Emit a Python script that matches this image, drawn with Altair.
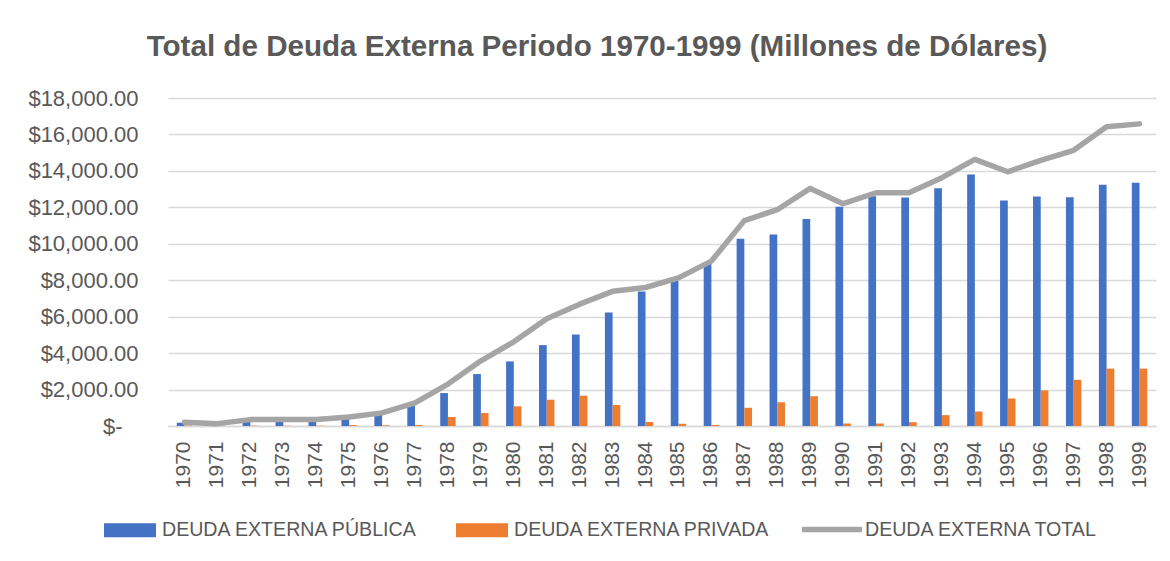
import altair as alt
import pandas as pd

years = [str(y) for y in range(1970, 2000)]

publica = [180, 110, 330, 340, 345, 440, 680, 1220, 1808, 2850,
           3545, 4438, 5023, 6227, 7378, 7963, 8895, 10270, 10510, 11355,
           12030, 12610, 12540, 13050, 13800, 12370, 12600, 12560, 13240, 13350]

privada = [30, 20, 20, 15, 15, 50, 40, 50, 493, 712,
           1078, 1443, 1662, 1150, 220, 128, 60, 1000, 1305, 1635,
           137, 137, 210, 595, 795, 1510, 1950, 2535, 3150, 3150]

total = [210, 130, 350, 355, 360, 490, 720, 1270, 2300, 3580,
         4620, 5890, 6685, 7390, 7600, 8130, 9050, 11270, 11870, 13040,
         12200, 12800, 12800, 13630, 14630, 13950, 14580, 15130, 16420, 16580]

S_PUB = "DEUDA EXTERNA PÚBLICA"
S_PRI = "DEUDA EXTERNA PRIVADA"
S_TOT = "DEUDA EXTERNA TOTAL"

bars_df = pd.DataFrame({
    "year": years * 2,
    "serie": [S_PUB] * len(years) + [S_PRI] * len(years),
    "valor": publica + privada,
})
line_df = pd.DataFrame({"year": years, "serie": [S_TOT] * len(years), "valor": total})

FONT = "Liberation Sans"
GRAY = "#595959"
LEG_FS = 19.6

x_enc = alt.X(
    "year:O",
    sort=years,
    scale=alt.Scale(paddingInner=0.532, paddingOuter=0.266),
    axis=alt.Axis(
        title=None, labelAngle=270, labelAlign="right", labelBaseline="middle",
        labelPadding=15, labelFont=FONT, labelFontSize=21, labelColor=GRAY,
        ticks=False, domainColor="#D9D9D9", domainWidth=1.5, grid=False,
    ),
)
y_enc = alt.Y(
    "valor:Q",
    scale=alt.Scale(domain=[0, 18000], nice=False),
    axis=alt.Axis(
        title=None, values=list(range(0, 18001, 2000)), labelOverlap=False,
        labelExpr="datum.value == 0 ? '$-\u2800' : '$' + format(datum.value, ',.2f')",
        labelFont=FONT, labelFontSize=22, labelColor=GRAY, labelPadding=30,
        domain=False, ticks=False, grid=True, gridColor="#D9D9D9", gridWidth=1.3,
    ),
)

bars = alt.Chart(bars_df).mark_bar().encode(
    x=x_enc,
    y=y_enc,
    xOffset=alt.XOffset("serie:N", sort=[S_PUB, S_PRI], scale=alt.Scale(paddingInner=0, paddingOuter=0)),
    fill=alt.Fill(
        "serie:N",
        scale=alt.Scale(domain=[S_PUB, S_PRI], range=["#4472C4", "#ED7D31"]),
        legend=alt.Legend(
            title=None, orient="none", legendX=-64, legendY=406, direction="horizontal",
            symbolType="M-1,-0.27H1V0.27H-1Z", symbolSize=2704, symbolStrokeWidth=0,
            symbolOpacity=1, labelFont=FONT, labelFontSize=LEG_FS, labelColor=GRAY,
            labelOffset=6, columnPadding=38, padding=0, labelLimit=0,
        ),
    ),
)

line = alt.Chart(line_df).mark_line(strokeWidth=5.5, strokeJoin="round", strokeCap="round").encode(
    x=x_enc,
    y=y_enc,
    stroke=alt.Stroke(
        "serie:N",
        scale=alt.Scale(domain=[S_TOT], range=["#A5A5A5"]),
        legend=alt.Legend(
            title=None, orient="none", legendX=631, legendY=398.5, direction="horizontal",
            symbolType="stroke", symbolSize=3600, symbolStrokeWidth=5.5,
            labelFont=FONT, labelFontSize=LEG_FS, labelColor=GRAY, labelOffset=0, padding=0,
            labelLimit=0,
        ),
    ),
)

chart = alt.layer(bars, line).resolve_scale(fill="independent", stroke="independent").properties(
    width=988,
    height=328,
    padding={"left": 160, "top": 90, "right": 6, "bottom": 127},
    autosize=alt.AutoSizeParams(type="none"),
    background="white",
    title=alt.Title(
        "Total de Deuda Externa Periodo 1970-1999 (Millones de Dólares)",
        font=FONT, fontSize=29.6, fontWeight="bold", color=GRAY,
        anchor="middle", frame="group", dx=-65, offset=24,
    ),
).configure_view(stroke=None)

chart.save("out.html", embed_options={"renderer": "svg", "actions": False})
